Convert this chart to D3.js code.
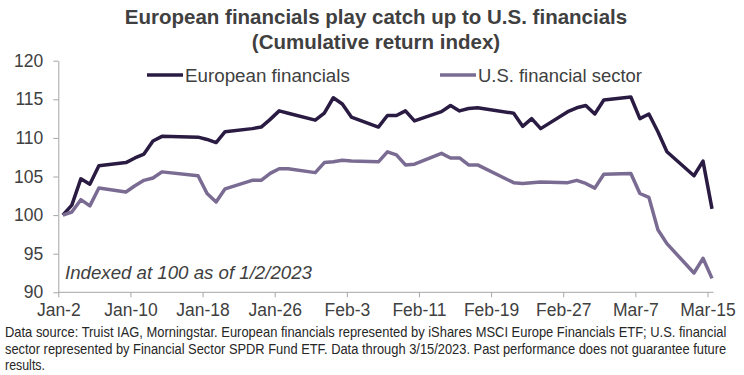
<!DOCTYPE html>
<html>
<head>
<meta charset="utf-8">
<script src="https://cdn.jsdelivr.net/npm/d3@7"></script>
<style>
  body { margin: 0; background: #fff; }
  svg { display: block; font-family: "Liberation Sans", Arial, sans-serif; }
</style>
</head>
<body>
<svg id="chart" width="744" height="375"></svg>
<script>
// trading days, 2023
const dates = ['01-02','01-03','01-04','01-05','01-06','01-09','01-10','01-11','01-12','01-13',
  '01-17','01-18','01-19','01-20','01-23','01-24','01-25','01-26','01-27','01-30','01-31',
  '02-01','02-02','02-03','02-06','02-07','02-08','02-09','02-10','02-13','02-14','02-15',
  '02-16','02-17','02-21','02-22','02-23','02-24','02-27','02-28','03-01','03-02','03-03',
  '03-06','03-07','03-08','03-09','03-10','03-13','03-14','03-15'];
const european = [100, 101.3, 104.7, 104.0, 106.4, 106.8, 107.4, 107.9, 109.6, 110.2,
  110.1, 109.8, 109.4, 110.8, 111.2, 111.4, 112.4, 113.5, 113.2, 112.3, 113.2,
  115.2, 114.4, 112.7, 111.4, 112.9, 112.9, 113.5, 112.2, 113.4, 114.2, 113.5,
  113.8, 113.9, 113.2, 111.5, 112.5, 111.2, 113.4, 113.9, 114.2, 113.1, 114.9,
  115.3, 112.5, 113.1, 110.8, 108.2, 105.1, 107.0, 100.8];
const usFin = [100, 100.4, 102.0, 101.2, 103.5, 103.0, 103.8, 104.5, 104.8, 105.6,
  105.1, 102.8, 101.7, 103.4, 104.5, 104.5, 105.4, 106.0, 106.0, 105.5, 106.8,
  106.9, 107.1, 107.0, 106.9, 108.2, 107.8, 106.5, 106.6, 108.0, 107.4, 107.4,
  106.5, 106.5, 104.2, 104.1, 104.2, 104.3, 104.2, 104.5, 104.1, 103.5, 105.3,
  105.4, 102.8, 102.3, 98.1, 96.3, 92.5, 94.4, 91.8];
const seriesNames = ['European financials', 'U.S. financial sector'];
const yTicks = [90, 95, 100, 105, 110, 115, 120];

const colors = ['#2a1b43', '#7a6b93'];
const parse = d3.timeParse('%Y-%m-%d');
const fmt = d3.timeFormat('%b-%-d');

const svg = d3.select('#chart');
const x0 = 58.3, x1 = 707.5, yTop = 60.7, yBot = 292.3;

const start = parse('2023-01-02'), end = parse('2023-03-15');
const x = d3.scaleTime().domain([start, end]).range([x0, x1]);
const y = d3.scaleLinear().domain([90, 120]).range([yBot, yTop]);

// Excel-style date axis: each day's point sits mid-day
const pts = dates.map(d => d3.timeHour.offset(parse('2023-' + d), 12));

// squeeze a text horizontally so it spans w pixels (the source font is a narrow one)
function fitWidth(g, text, w) {
  const n = text.node().getComputedTextLength();
  text.attr('transform', `scale(${w / n},1)`);
}

// title
svg.append('text')
  .attr('x', 376).attr('y', 24)
  .attr('text-anchor', 'middle')
  .style('font-size', '20.5px').style('font-weight', 'bold').style('fill', '#404040')
  .text('European financials play catch up to U.S. financials');
svg.append('text')
  .attr('x', 376).attr('y', 49)
  .attr('text-anchor', 'middle')
  .style('font-size', '20.5px').style('font-weight', 'bold').style('fill', '#404040')
  .text('(Cumulative return index)');

// axes
const yAxis = d3.axisLeft(y).tickValues(yTicks).tickSize(5).tickSizeOuter(0).tickPadding(10);
const yg = svg.append('g').attr('transform', `translate(${x0},0)`).call(yAxis);

const xTicks = d3.timeDay.range(start, d3.timeDay.offset(end, 1), 8);
const xAxis = d3.axisBottom(x).tickValues(xTicks).tickFormat(fmt).tickSize(5).tickSizeOuter(0).tickPadding(6);
const xg = svg.append('g').attr('transform', `translate(0,${yBot})`).call(xAxis);

[yg, xg].forEach(g => {
  g.select('.domain').attr('stroke', '#a6a6a6');
  g.selectAll('.tick line').attr('stroke', '#a6a6a6');
  g.selectAll('.tick text').style('font-size', '17.5px').style('fill', '#404040')
    .style('font-family', '"Liberation Sans", Arial, sans-serif');
});
xg.select('.domain').attr('d', `M${x0},0H${x1 + 6}`);

// lines
const line = d3.line().x((d, i) => x(pts[i])).y(d => y(d));
[european, usFin].forEach((s, k) => {
  svg.append('path')
    .datum(s)
    .attr('fill', 'none')
    .attr('stroke', colors[k])
    .attr('stroke-width', 3.5)
    .attr('stroke-linejoin', 'round')
    .attr('d', line);
});

// legend
const legX = [147, 440];
const legW = [165, 164];
seriesNames.forEach((n, k) => {
  const g = svg.append('g').attr('transform', `translate(${legX[k]},75)`);
  g.append('line').attr('x1', 0).attr('x2', 36).attr('stroke', colors[k]).attr('stroke-width', 3.5);
  const t = g.append('g').attr('transform', 'translate(38,6.5)').append('text')
    .style('font-size', '18.5px').style('fill', '#404040').text(n);
  fitWidth(g, t, legW[k]);
});

// note
const noteG = svg.append('g').attr('transform', 'translate(65,279)');
const note = noteG.append('text')
  .style('font-size', '18.5px').style('font-style', 'italic').style('fill', '#404040')
  .text('Indexed at 100 as of 1/2/2023');
fitWidth(noteG, note, 247);

// footer
const foot = [
  'Data source: Truist IAG, Morningstar. European financials represented by iShares MSCI Europe Financials ETF; U.S. financial',
  'sector represented by Financial Sector SPDR Fund ETF. Data through 3/15/2023. Past performance does not guarantee future',
  'results.'
];
const footW = [722, 722, 40];
foot.forEach((t, i) => {
  const g = svg.append('g').attr('transform', `translate(5,${337 + i * 16.5})`);
  const txt = g.append('text')
    .style('font-size', '14px').style('fill', '#262626')
    .text(t);
  fitWidth(g, txt, footW[i]);
});
</script>
</body>
</html>
